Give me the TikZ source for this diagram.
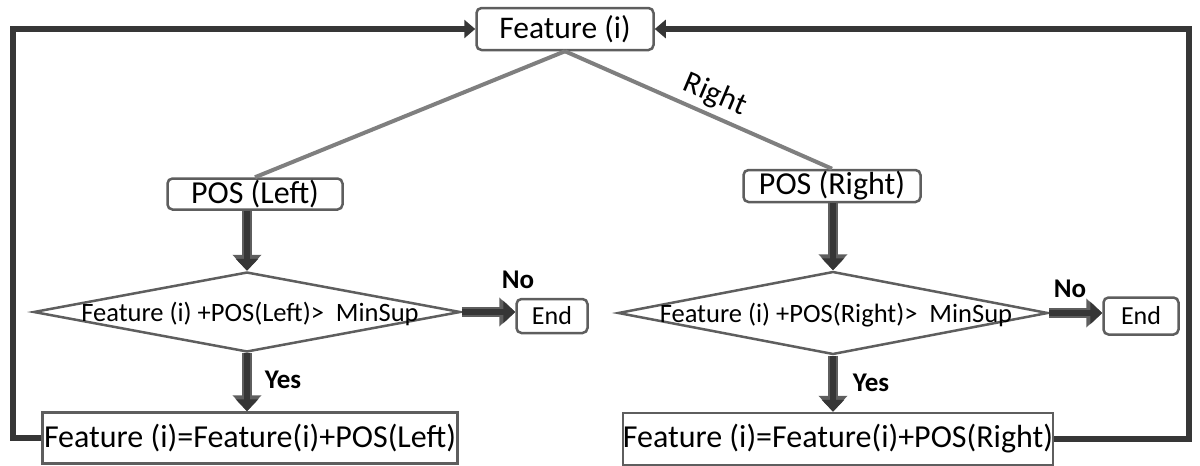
\documentclass[tikz,border=0pt]{standalone}
\usepackage{fontspec}
\setmainfont{Carlito}
\usetikzlibrary{shapes.geometric,arrows.meta}
\definecolor{loopgray}{HTML}{363636}
\definecolor{boxgray}{HTML}{5E5E5E}
\definecolor{linkgray}{HTML}{7F7F7F}

\begin{document}
\begin{tikzpicture}[x=1pt, y=-1pt, inner sep=0pt,
	box/.style={draw=boxgray, line width=2.5pt, rounded corners=5pt, fill=white},
	flat/.style={draw=boxgray, line width=2.5pt, fill=white},
	cond/.style={diamond, draw=boxgray, line width=2.5pt, fill=white},
	block/.style={-{Triangle[width=22pt, length=12pt]}, draw=loopgray, line width=6pt,
		preaction={draw=boxgray, line width=10pt, -{Triangle[width=28pt, length=16pt]}}},
	>={Triangle[width=18pt, length=11pt]}]
	\useasboundingbox (0,0) rectangle (1200,466);

	% top node
	\node[box, minimum width=177pt, minimum height=42pt, font=\fontsize{31.5}{31.5}\selectfont] (feat) at (565, 29) {Feature (i)};

	% left branch
	\node[box, minimum width=175pt, minimum height=31pt, font=\fontsize{32}{32}\selectfont] (posl) at (255, 194) {POS (Left)};
	\node[cond, minimum width=427pt, minimum height=80pt] (condl) at (247, 312) {};
	\node[font=\fontsize{26.5}{26.5}\selectfont] at (250, 314) {Feature (i) +POS(Left)>\ \ MinSup};
	\node[box, minimum width=71pt, minimum height=34pt, font=\fontsize{26}{26}\selectfont] (endl) at (552, 316) {End};
	\node[flat, minimum width=415pt, minimum height=51pt, font=\fontsize{32}{32}\selectfont] (updl) at (250, 438) {Feature (i)=Feature(i)+POS(Left)};

	% right branch
	\node[box, minimum width=177pt, minimum height=32pt, font=\fontsize{32}{32}\selectfont] (posr) at (832, 186) {POS (Right)};
	\node[cond, minimum width=430pt, minimum height=83pt] (condr) at (833, 313) {};
	\node[font=\fontsize{26.5}{26.5}\selectfont] at (836, 315) {Feature (i) +POS(Right)>\ \ MinSup};
	\node[box, minimum width=75pt, minimum height=37pt, font=\fontsize{26}{26}\selectfont] (endr) at (1141, 316) {End};
	\node[flat, minimum width=430pt, minimum height=52pt, font=\fontsize{32}{32}\selectfont] (updr) at (838, 439) {Feature (i)=Feature(i)+POS(Right)};

	% labels
	\node[font=\fontsize{27}{27}\selectfont\bfseries] at (518, 280) {No};
	\node[font=\fontsize{27}{27}\selectfont\bfseries] at (1070, 289) {No};
	\node[font=\fontsize{27}{27}\selectfont\bfseries] at (283, 380) {Yes};
	\node[font=\fontsize{27}{27}\selectfont\bfseries] at (871, 383) {Yes};
	\node[font=\fontsize{31}{31}\selectfont, rotate=-23] at (715, 95) {Right};

	% tree links
	\draw[linkgray, line width=4pt] (feat.south) -- (posl.north);
	\draw[linkgray, line width=4pt] (feat.south) -- (posr.north);

	% block arrows
	\draw[block] (posl.south -| condl.north) -- (condl.north);
	\draw[block] (condl.south) -- (condl.south |- updl.north);
	\draw[block] (condl.east) -- (endl.west |- condl.east);
	\draw[block] (posr.south -| condr.north) -- (condr.north);
	\draw[block] (condr.south) -- (condr.south |- updr.north);
	\draw[block] (condr.east) -- (endr.west |- condr.east);

	% feedback loops
	\draw[->, loopgray, line width=6pt] (updl.west) -| (13, 29) -- (feat.west);
	\draw[->, loopgray, line width=6pt] (updr.east) -| (1189, 29) -- (feat.east);
\end{tikzpicture}
\end{document}
